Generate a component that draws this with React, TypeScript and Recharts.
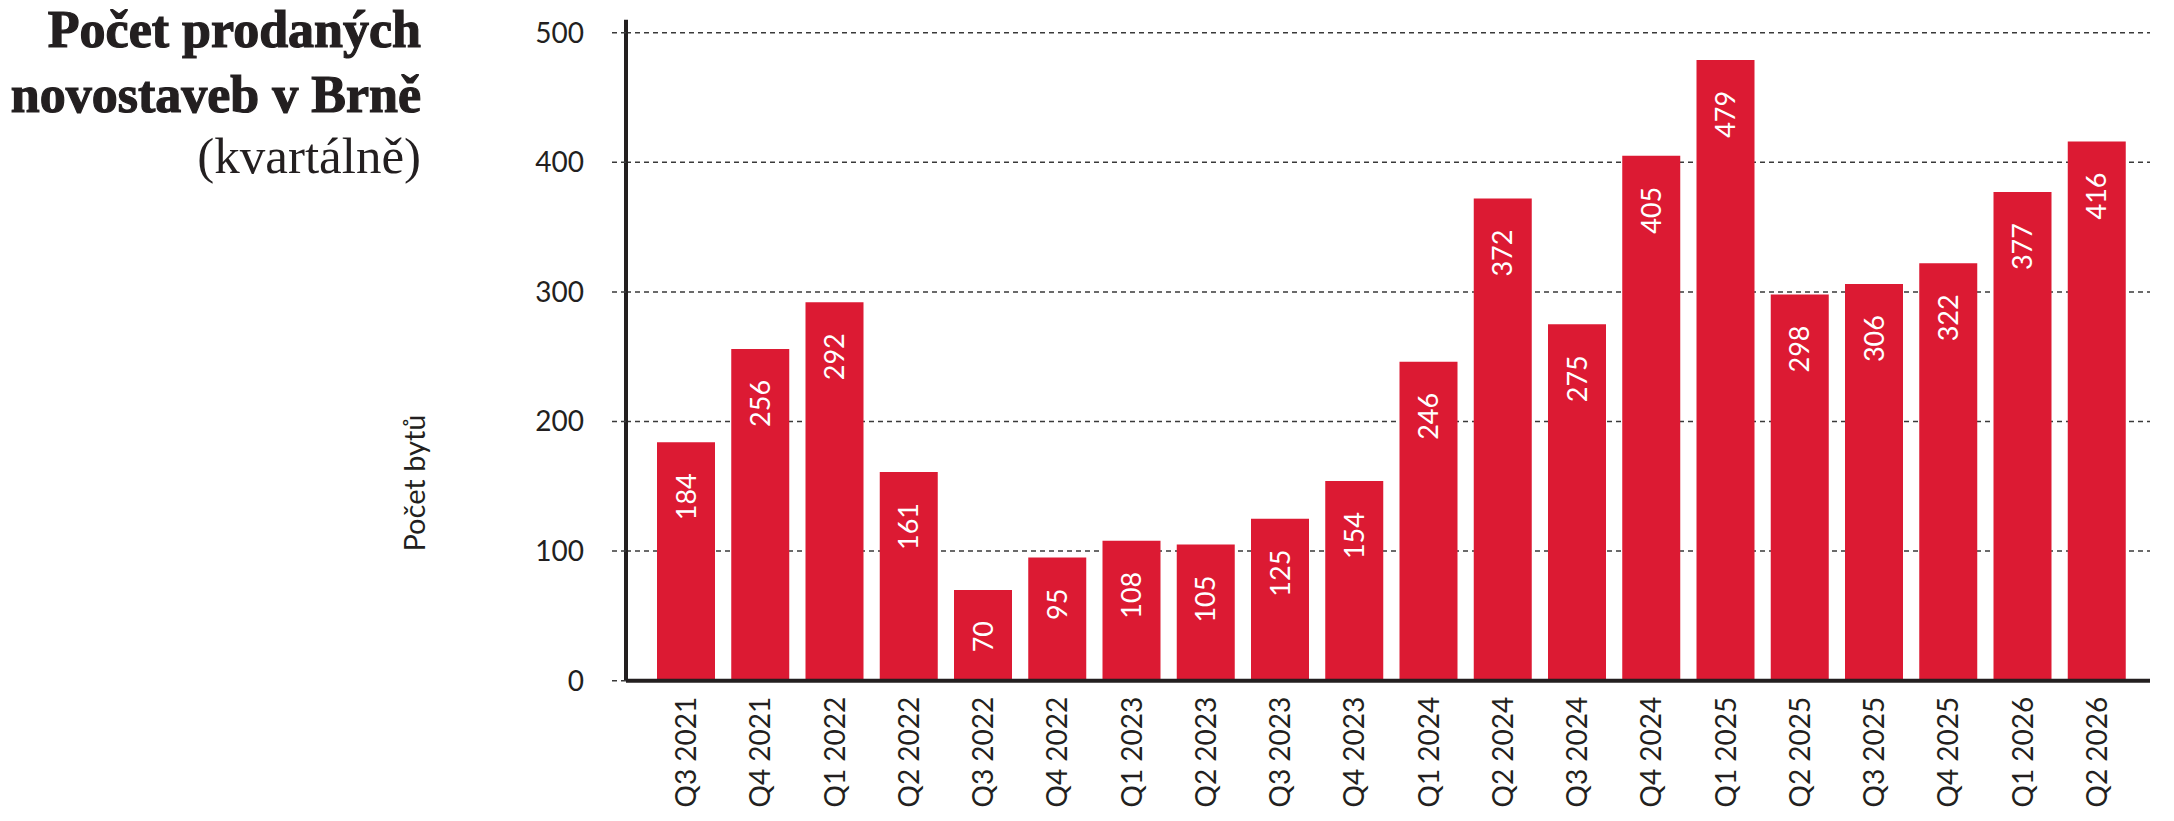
import React from 'react';
import { BarChart, Bar, XAxis, YAxis, CartesianGrid, LabelList } from 'recharts';

const quarters = [
  'Q3 2021', 'Q4 2021', 'Q1 2022', 'Q2 2022', 'Q3 2022', 'Q4 2022',
  'Q1 2023', 'Q2 2023', 'Q3 2023', 'Q4 2023', 'Q1 2024', 'Q2 2024',
  'Q3 2024', 'Q4 2024', 'Q1 2025', 'Q2 2025', 'Q3 2025', 'Q4 2025',
  'Q1 2026', 'Q2 2026',
];
const sales = [184, 256, 292, 161, 70, 95, 108, 105, 125, 154, 246, 372, 275, 405, 479, 298, 306, 322, 377, 416];
const yTicks = [0, 100, 200, 300, 400, 500];
const yDomain = [0, 510];
const titleLines = ['Počet prodaných', 'novostaveb v Brně'];
const subtitle = '(kvartálně)';
const yAxisTitle = 'Počet bytů';

const data = quarters.map((q, i) => ({ quarter: q, value: sales[i] }));

const INK = '#231f20';
const GRID = '#3a3a3a';
const RED = '#dc1a33';
const SANS = 'Lato, "Open Sans", sans-serif';
const SERIF = '"Liberation Serif", "DejaVu Serif", serif';

const XTick = (props: any) => {
  const { x, y, payload } = props;
  return (
    <text
      x={x}
      y={y}
      transform={`rotate(-90, ${x}, ${y})`}
      textAnchor="end"
      dy="0.36em"
      fontSize={28}
      fontFamily={SANS}
      fill={INK}
    >
      {payload.value}
    </text>
  );
};

const ValueLabel = (props: any) => {
  const { x, y, width, value } = props;
  const cx = Number(x) + Number(width) / 2;
  const ty = Number(y) + 31;
  return (
    <text
      x={cx}
      y={ty}
      transform={`rotate(-90, ${cx}, ${ty})`}
      textAnchor="end"
      dy="0.36em"
      fill="#ffffff"
      fontSize={27}
      fontFamily={SANS}
    >
      {value}
    </text>
  );
};

const gridRows = (props: any) => {
  const yAxis = props && props.yAxis;
  const s = yAxis && yAxis.scale;
  let out: number[] = [];
  if (typeof s === 'function') {
    out = yTicks.map((t) => Number(s(t)));
  } else if (s && typeof s.map === 'function') {
    out = yTicks.map((t) => Number(s.map(t)));
  }
  if (out.length && out.every((v) => Number.isFinite(v))) return out;
  const off = (props && props.offset) || {};
  const top = Number(off.top);
  const h = Number(off.height);
  return yTicks.map((t) => top + h * (1 - (t - yDomain[0]) / (yDomain[1] - yDomain[0])));
};

export default function App() {
  return (
    <div style={{ position: 'absolute', left: 0, top: 0, width: 2174, height: 821, background: '#fff' }}>
      <BarChart
        width={2174}
        height={821}
        data={data}
        margin={{ top: 19.7, right: 24, bottom: 0, left: 0 }}
        barSize={58}
      >
        <CartesianGrid
          vertical={false}
          stroke={GRID}
          strokeWidth={1.5}
          strokeDasharray="5 4"
          horizontalCoordinatesGenerator={gridRows}
        />
        <XAxis
          dataKey="quarter"
          interval={0}
          padding={{ left: 23, right: 16 }}
          axisLine={{ stroke: INK, strokeWidth: 4 }}
          tickLine={false}
          tickSize={10}
          tickMargin={6}
          tick={XTick}
          height={140.3}
        />
        <YAxis
          width={626}
          domain={yDomain}
          ticks={yTicks}
          interval={0}
          axisLine={{ stroke: INK, strokeWidth: 4 }}
          tickLine={{ stroke: GRID, strokeWidth: 1.5, strokeDasharray: '5 4' }}
          tickSize={14}
          tickMargin={28}
          tick={{ fill: INK, fontSize: 28, fontFamily: SANS }}
        />
        <Bar dataKey="value" fill={RED} isAnimationActive={false}>
          <LabelList dataKey="value" content={ValueLabel} />
        </Bar>
      </BarChart>
      <svg
        width={2174}
        height={821}
        style={{ position: 'absolute', left: 0, top: 0, pointerEvents: 'none' }}
      >
        <text x={421} y={47} textAnchor="end" fontFamily={SERIF} fontWeight={700} fontSize={52} fill={INK} stroke={INK} strokeWidth={1.2}>
          {titleLines[0]}
        </text>
        <text x={421} y={112} textAnchor="end" fontFamily={SERIF} fontWeight={700} fontSize={52} fill={INK} stroke={INK} strokeWidth={1.2}>
          {titleLines[1]}
        </text>
        <text x={421} y={173} textAnchor="end" fontFamily={SERIF} fontWeight={400} fontSize={51} fill={INK}>
          {subtitle}
        </text>
        <text
          x={425}
          y={483}
          transform="rotate(-90, 425, 483)"
          textAnchor="middle"
          fontFamily={SANS}
          fontSize={29}
          fill={INK}
        >
          {yAxisTitle}
        </text>
      </svg>
    </div>
  );
}
